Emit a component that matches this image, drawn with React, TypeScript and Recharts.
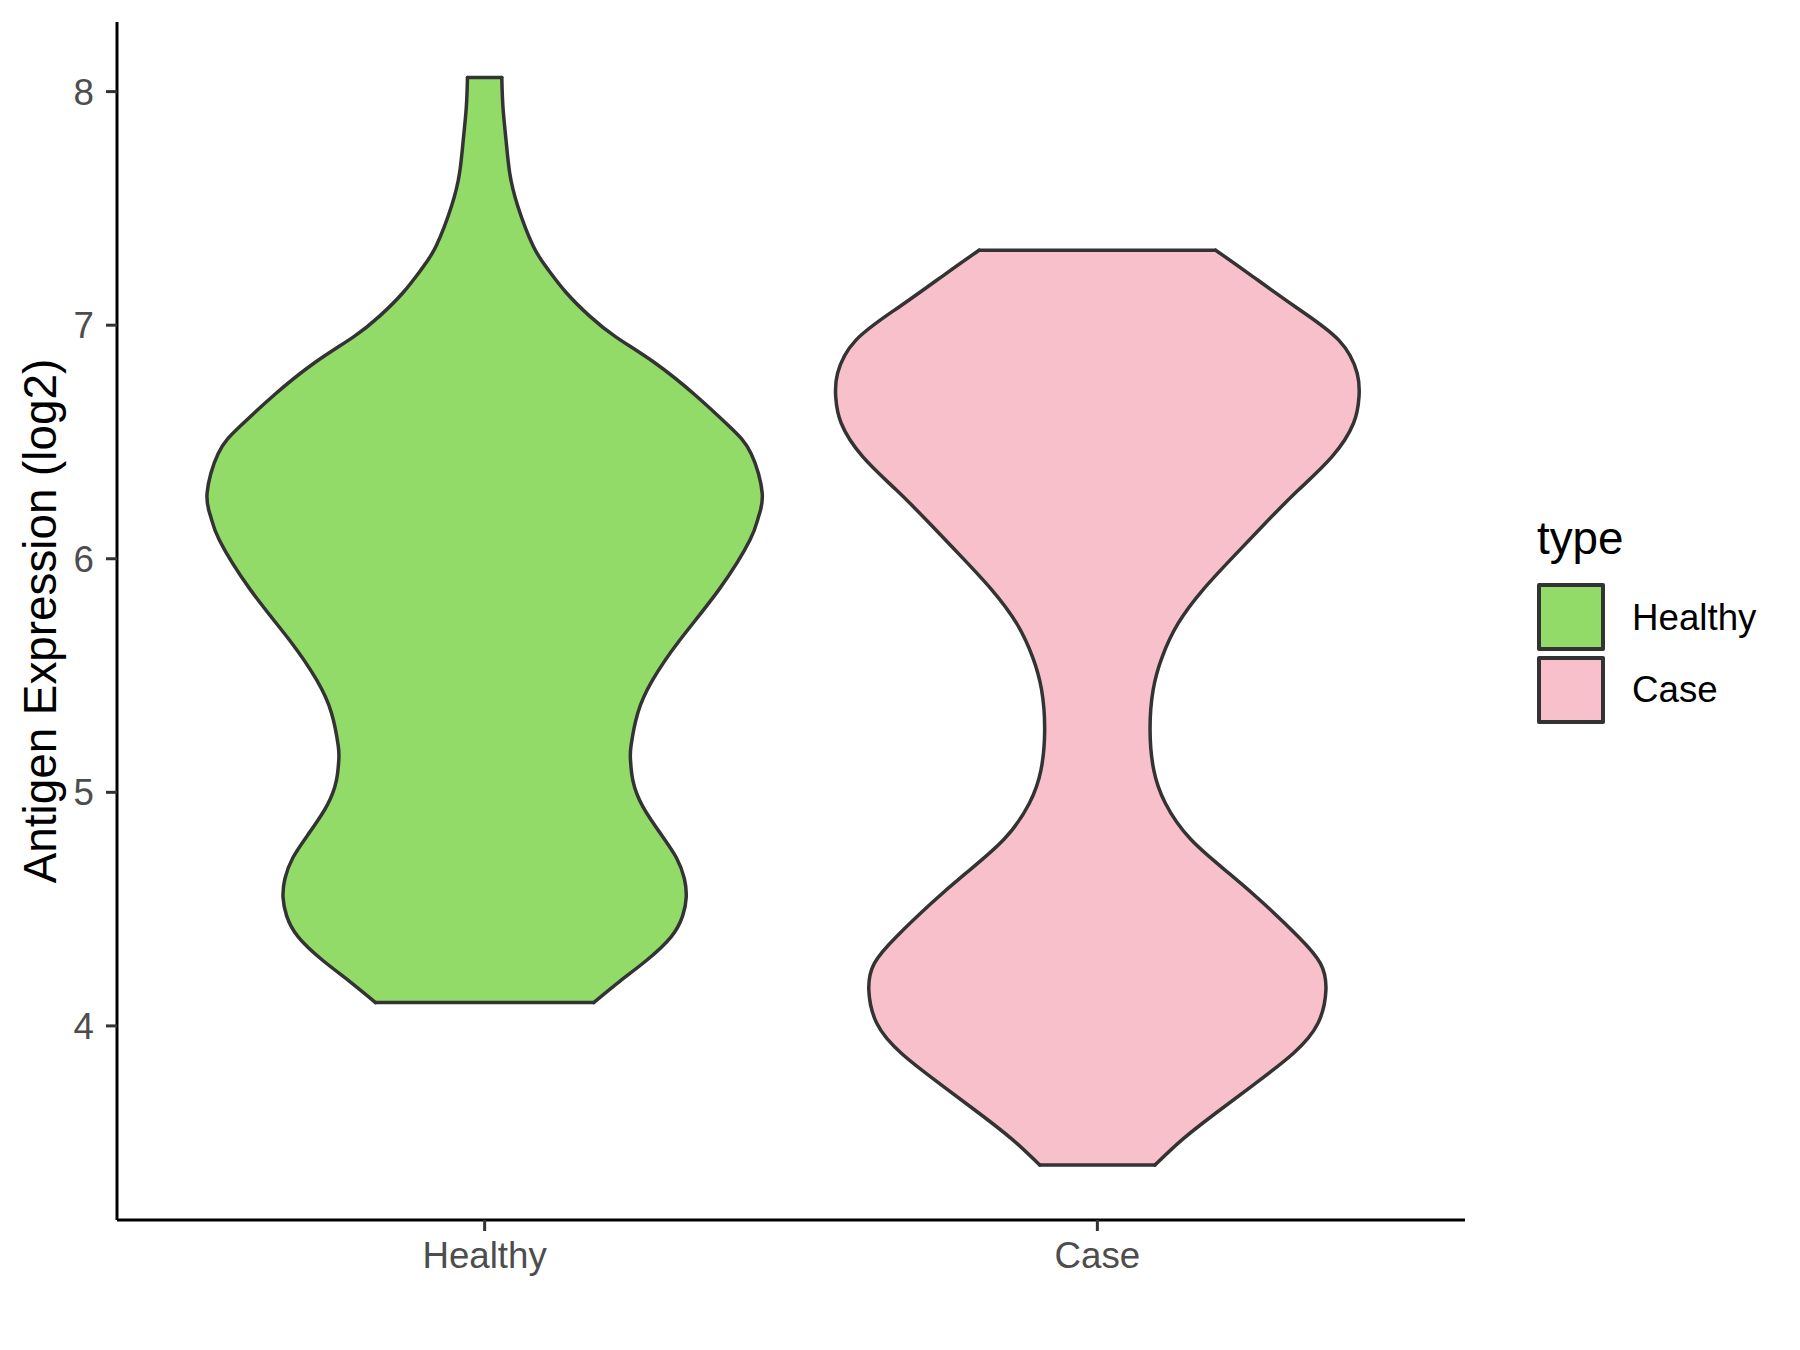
import React from 'react';
import { ComposedChart, Area, Line, XAxis, YAxis, Legend } from 'recharts';

const FONT = '"Liberation Sans", Arial, Helvetica, sans-serif';
const OUTLINE = '#333333';

const CATEGORIES = ['Healthy', 'Case'];
const FILLS = ['#93DB69', '#F7C0CB'];
const Y_TICKS = [4, 5, 6, 7, 8];

// violin outlines: expression value -> half width (category units)
const HEALTHY_Y = [
  4.1, 4.19, 4.28, 4.38, 4.47, 4.55, 4.63, 4.72, 4.82, 4.94, 5.05, 5.14, 5.2, 5.34, 5.48, 5.65,
  5.87, 6.08, 6.18, 6.28, 6.45, 6.565, 6.7, 6.84, 6.95, 7.04, 7.14, 7.24, 7.34, 7.51, 7.65, 7.79,
  7.93, 8.06,
];
const HEALTHY_HW = [
  0.178, 0.22, 0.264, 0.304, 0.323, 0.329, 0.326, 0.313, 0.288, 0.258, 0.242, 0.238, 0.239, 0.25,
  0.274, 0.318, 0.383, 0.433, 0.447, 0.453, 0.435, 0.4, 0.344, 0.277, 0.214, 0.171, 0.133,
  0.103, 0.079, 0.054, 0.041, 0.035, 0.03, 0.028,
];

const CASE_Y = [
  3.404, 3.512, 3.626, 3.754, 3.883, 4.011, 4.154, 4.268, 4.382, 4.525, 4.653, 4.8, 4.953, 5.096,
  5.267, 5.438, 5.581, 5.724, 5.866, 6.009, 6.152, 6.294, 6.437, 6.58, 6.693, 6.794, 6.936, 7.079,
  7.221, 7.321,
];
const CASE_HW = [
  0.094, 0.138, 0.193, 0.258, 0.32, 0.36, 0.373, 0.364, 0.328, 0.271, 0.215, 0.152, 0.111,
  0.092, 0.086, 0.091, 0.106, 0.132, 0.172, 0.222, 0.274, 0.328, 0.383, 0.418, 0.427, 0.424,
  0.394, 0.323, 0.247, 0.193,
];

const Y_DOMAIN = [3.169, 8.298];
const X_DOMAIN = [0.4, 2.6];

function violin(ys: number[], hws: number[], center: number) {
  return ys.map((y, i) => ({ y, x: [center - hws[i], center + hws[i]] }));
}

function cap(ys: number[], hws: number[], center: number, i: number) {
  return [
    { y: ys[i], x: center - hws[i] },
    { y: ys[i], x: center + hws[i] },
  ];
}

const VIOLINS = [
  { name: CATEGORIES[0], ys: HEALTHY_Y, hws: HEALTHY_HW, center: 1, fill: FILLS[0] },
  { name: CATEGORIES[1], ys: CASE_Y, hws: CASE_HW, center: 2, fill: FILLS[1] },
];

function TypeLegend() {
  return (
    <div style={{ position: 'relative', width: 263, height: 230, fontFamily: FONT, color: '#000' }}>
      <div style={{ position: 'absolute', left: 0, top: 0, fontSize: 45.8, lineHeight: 1 }}>type</div>
      {VIOLINS.map((v, i) => (
        <React.Fragment key={v.name}>
          <div
            style={{
              position: 'absolute',
              left: 0,
              top: 67 + i * 72.5,
              width: 68,
              height: 68,
              boxSizing: 'border-box',
              border: `4px solid ${OUTLINE}`,
              borderRadius: 2,
              background: v.fill,
            }}
          />
          <div
            style={{
              position: 'absolute',
              left: 95,
              top: 84 + i * 71.5,
              fontSize: 36.7,
              lineHeight: 1,
              whiteSpace: 'nowrap',
            }}
          >
            {v.name}
          </div>
        </React.Fragment>
      ))}
    </div>
  );
}

const renderYTitle = (props: any) => {
  const vb = props.viewBox || { x: 0, y: 22, width: 117, height: 1198 };
  const cx = vb.x + 56;
  const cy = vb.y + vb.height / 2;
  return (
    <text
      x={cx}
      y={cy}
      transform={`rotate(-90 ${cx} ${cy})`}
      textAnchor="middle"
      fontSize={45.8}
      fontFamily={FONT}
      fill="#000"
    >
      Antigen Expression (log2)
    </text>
  );
};

export default function App() {
  return (
    <div style={{ position: 'absolute', left: 0, top: 0, width: 1800, height: 1350, background: '#fff' }}>
      <ComposedChart
        width={1800}
        height={1350}
        layout="vertical"
        margin={{ top: 22, right: 335, bottom: 0, left: 0 }}
      >
        <XAxis
          type="number"
          domain={X_DOMAIN}
          allowDataOverflow
          ticks={[1, 2]}
          tickFormatter={(v: number) => CATEGORIES[v - 1]}
          height={130}
          tickSize={11}
          tickMargin={11}
          axisLine={{ stroke: '#000', strokeWidth: 3 }}
          tickLine={{ stroke: OUTLINE, strokeWidth: 3 }}
          tick={{ fill: '#4D4D4D', fontSize: 36.7, fontFamily: FONT }}
        />
        <YAxis
          type="number"
          dataKey="y"
          domain={Y_DOMAIN}
          allowDataOverflow
          reversed
          ticks={Y_TICKS}
          width={117}
          tickSize={11}
          tickMargin={12}
          axisLine={{ stroke: '#000', strokeWidth: 3 }}
          tickLine={{ stroke: OUTLINE, strokeWidth: 3 }}
          tick={{ fill: '#4D4D4D', fontSize: 36.7, fontFamily: FONT }}
          label={{ content: renderYTitle }}
        />
        {VIOLINS.map((v) => (
          <Area
            key={`area-${v.name}`}
            data={violin(v.ys, v.hws, v.center)}
            dataKey="x"
            type="natural"
            fill={v.fill}
            fillOpacity={1}
            stroke={OUTLINE}
            strokeWidth={3.5}
            strokeLinecap="round"
            isAnimationActive={false}
            legendType="none"
          />
        ))}
        {VIOLINS.flatMap((v) =>
          [0, v.ys.length - 1].map((i) => (
            <Line
              key={`cap-${v.name}-${i}`}
              data={cap(v.ys, v.hws, v.center, i)}
              dataKey="x"
              type="linear"
              stroke={OUTLINE}
              strokeWidth={3.5}
              strokeLinecap="round"
              dot={false}
              activeDot={false}
              isAnimationActive={false}
              legendType="none"
            />
          ))
        )}
        <Legend
          layout="vertical"
          align="center"
          verticalAlign="middle"
          content={() => <TypeLegend />}
          wrapperStyle={{ left: 1537, top: 516, width: 263, height: 230 }}
        />
      </ComposedChart>
    </div>
  );
}
